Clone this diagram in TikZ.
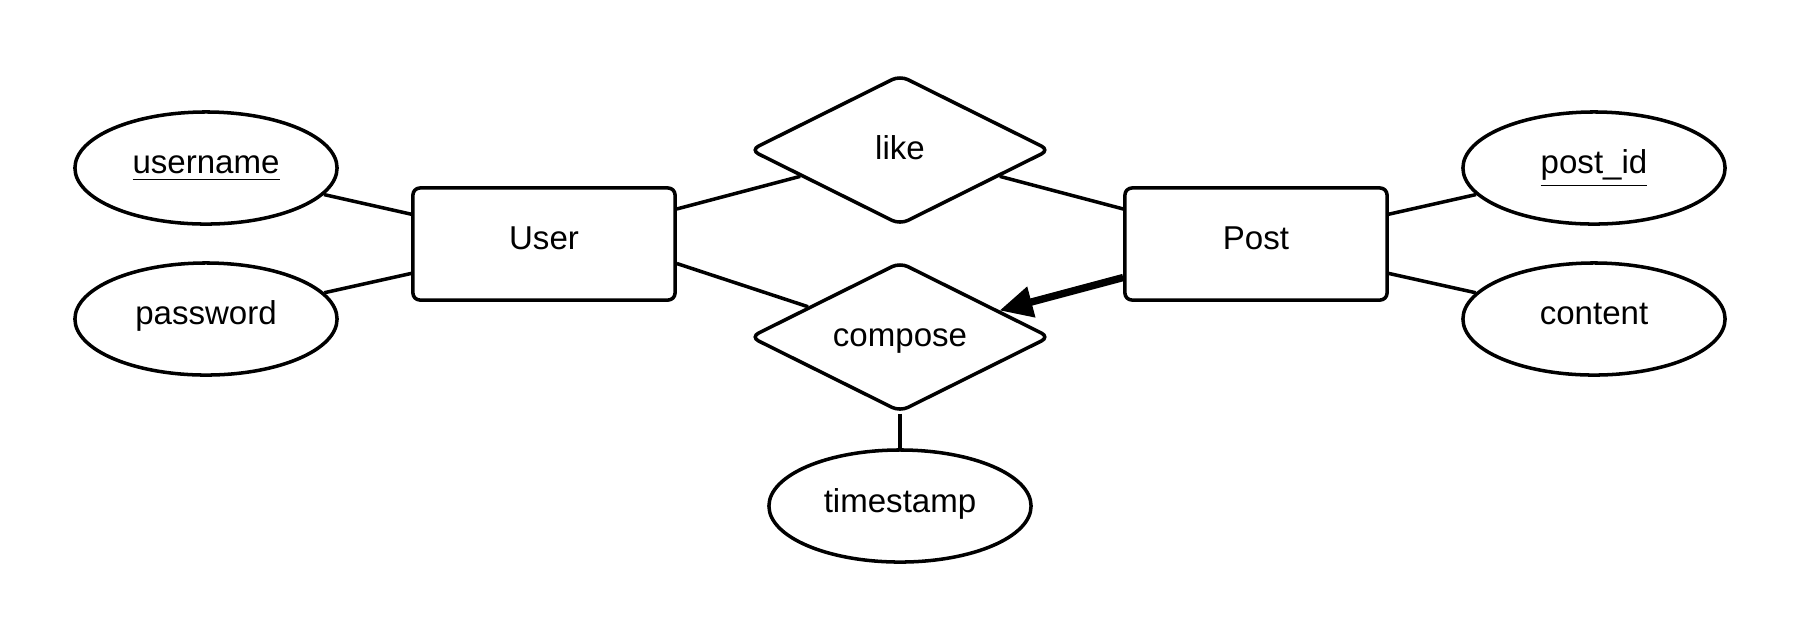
\documentclass[tikz,border=0pt]{standalone}
\usepackage{fontspec}
\setmainfont{Liberation Sans}
\usetikzlibrary{shapes.geometric,arrows.meta}

\begin{document}
\begin{tikzpicture}[x=0.01cm,y=-0.01cm,line width=1pt]
        \tikzstyle{every node}=[draw,inner sep=0pt,text height=0.7em,text depth=0.36em,font=\fontsize{9.4}{11}\selectfont]
        \tikzstyle{entity}=[rectangle,rounded corners=2pt,minimum width=2.62cm,minimum height=1.12cm]
        \tikzstyle{attr}=[ellipse,minimum width=2.62cm,minimum height=1.12cm]
        \tikzstyle{rel}=[diamond,aspect=2,rounded corners=2.5pt,minimum width=3cm,minimum height=1.5cm,text height=0.78em,text depth=0.26em]
        \tikzstyle{total}=[line width=2.1pt,-{Triangle[length=3.3mm,width=3mm]}]
        \useasboundingbox (0,0) rectangle (1800,638);
        \node[entity] (User) at (544,244) {User};
        \node[entity] (Post) at (1256,244) {Post};
        \node[rel] (like) at (900,150) {like};
        \node[rel] (compose) at (900,337) {compose};
        \node[attr] (username) at (206,168) {\underline{username}};
        \node[attr] (password) at (206,319) {password};
        \node[attr] (postid) at (1594,168) {\underline{post\_id}};
        \node[attr] (content) at (1594,319) {content};
        \node[attr] (timestamp) at (900,506) {timestamp};
        \draw (username) -- (User);
        \draw (password) -- (User);
        \draw (postid) -- (Post);
        \draw (content) -- (Post);
        \draw (User) -- (like);
        \draw (Post) -- (like);
        \draw ([yshift=-0.195cm]User.east) -- (compose);
        \draw[total] ([yshift=-0.335cm]Post.west) -- (compose);
        \draw (compose) -- (timestamp);
\end{tikzpicture}
\end{document}
